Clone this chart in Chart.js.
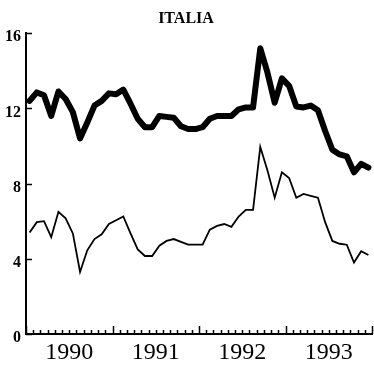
<!DOCTYPE html>
<html>
<head>
<meta charset="utf-8">
<script src="https://cdn.jsdelivr.net/npm/chart.js@4.4.1/dist/chart.umd.min.js"></script>
<style>
    html, body { margin: 0; padding: 0; background: #fff; }
    #wrap { width: 374px; height: 370px; }
</style>
</head>
<body>
<div id="wrap"><canvas id="italia-chart" width="374" height="370"></canvas></div>
<script>
// Serie mensili gen 1990 - dic 1993
const years = ['1990', '1991', '1992', '1993'];
const yTicks = [0, 4, 8, 12, 16];

const serieAlta = [
    12.4, 12.85, 12.7, 11.6, 12.9, 12.5, 11.8, 10.4, 11.25, 12.15, 12.4, 12.8,
    12.75, 13.0, 12.25, 11.45, 11.0, 11.0, 11.6, 11.55, 11.5, 11.05, 10.9, 10.9,
    11.0, 11.45, 11.6, 11.6, 11.6, 11.95, 12.05, 12.05, 15.2, 13.9, 12.3, 13.6,
    13.2, 12.1, 12.05, 12.15, 11.9, 10.8, 9.8, 9.55, 9.45, 8.6, 9.05, 8.85
];

const serieBassa = [
    5.4, 5.95, 6.0, 5.15, 6.5, 6.15, 5.35, 3.3, 4.45, 5.05, 5.3, 5.85,
    6.05, 6.25, 5.35, 4.5, 4.15, 4.15, 4.7, 4.95, 5.05, 4.9, 4.75, 4.75,
    4.75, 5.55, 5.75, 5.85, 5.7, 6.25, 6.6, 6.6, 9.95, 8.7, 7.25, 8.6,
    8.3, 7.25, 7.45, 7.35, 7.25, 5.95, 4.95, 4.8, 4.75, 3.8, 4.4, 4.2
];

const toPoints = (arr) => arr.map((v, i) => ({ x: i, y: v }));

// tacche interne: mesi sull'asse x, valori sull'asse y
const innerTicks = {
    id: 'innerTicks',
    afterDraw(chart) {
        const ctx = chart.ctx;
        const xs = chart.scales.x;
        const ys = chart.scales.y;
        const area = chart.chartArea;
        ctx.save();
        ctx.strokeStyle = '#000';
        ctx.lineWidth = 1.5;
        ctx.beginPath();
        for (let k = 0; k <= years.length * 12; k++) {
            const px = Math.round(xs.getPixelForValue(k - 0.5)) + 0.5;
            const len = k % 12 === 0 ? 8 : 4;
            ctx.moveTo(px, area.bottom);
            ctx.lineTo(px, area.bottom - len);
        }
        yTicks.forEach(v => {
            const py = Math.round(ys.getPixelForValue(v)) + 0.5;
            ctx.moveTo(area.left, py);
            ctx.lineTo(area.left + 6, py);
        });
        ctx.stroke();
        ctx.restore();
    }
};

document.addEventListener('DOMContentLoaded', () => {
    const ctx = document.getElementById('italia-chart').getContext('2d');

    new Chart(ctx, {
        type: 'line',
        data: {
            datasets: [{
                data: toPoints(serieAlta),
                borderColor: '#000',
                borderWidth: 6,
                borderJoinStyle: 'round',
                borderCapStyle: 'round',
                pointRadius: 0,
                tension: 0
            }, {
                data: toPoints(serieBassa),
                borderColor: '#000',
                borderWidth: 1.8,
                pointRadius: 0,
                tension: 0
            }]
        },
        options: {
            responsive: false,
            animation: false,
            layout: { padding: { left: 0, right: 2, top: 0, bottom: 0 } },
            scales: {
                x: {
                    type: 'linear',
                    min: -0.5,
                    max: years.length * 12 - 0.5,
                    afterBuildTicks: (scale) => {
                        scale.ticks = years.map((y, i) => ({ value: i * 12 + 5.5 }));
                    },
                    afterFit: (scale) => { scale.height = 36; },
                    grid: { display: false, drawTicks: false },
                    border: { display: true, color: '#000', width: 2 },
                    ticks: {
                        autoSkip: false,
                        maxRotation: 0,
                        padding: 4,
                        color: '#000',
                        font: { family: 'Liberation Serif', size: 24 },
                        callback: (value) => years[Math.round((value - 5.5) / 12)]
                    }
                },
                y: {
                    min: 0,
                    max: 16,
                    afterBuildTicks: (scale) => {
                        scale.ticks = yTicks.map(v => ({ value: v }));
                    },
                    afterFit: (scale) => { scale.width = 26; },
                    grid: { display: false, drawTicks: false },
                    border: { display: true, color: '#000', width: 2 },
                    ticks: {
                        padding: 5,
                        labelOffset: 4,
                        color: '#000',
                        font: { family: 'Liberation Serif', size: 16, weight: 'bold' }
                    }
                }
            },
            plugins: {
                legend: { display: false },
                tooltip: { enabled: false },
                title: {
                    display: true,
                    text: 'ITALIA',
                    color: '#000',
                    font: { family: 'Liberation Serif', size: 16, weight: 'bold' },
                    padding: { top: 9, bottom: 5 }
                }
            }
        },
        plugins: [innerTicks]
    });
});
</script>
</body>
</html>
